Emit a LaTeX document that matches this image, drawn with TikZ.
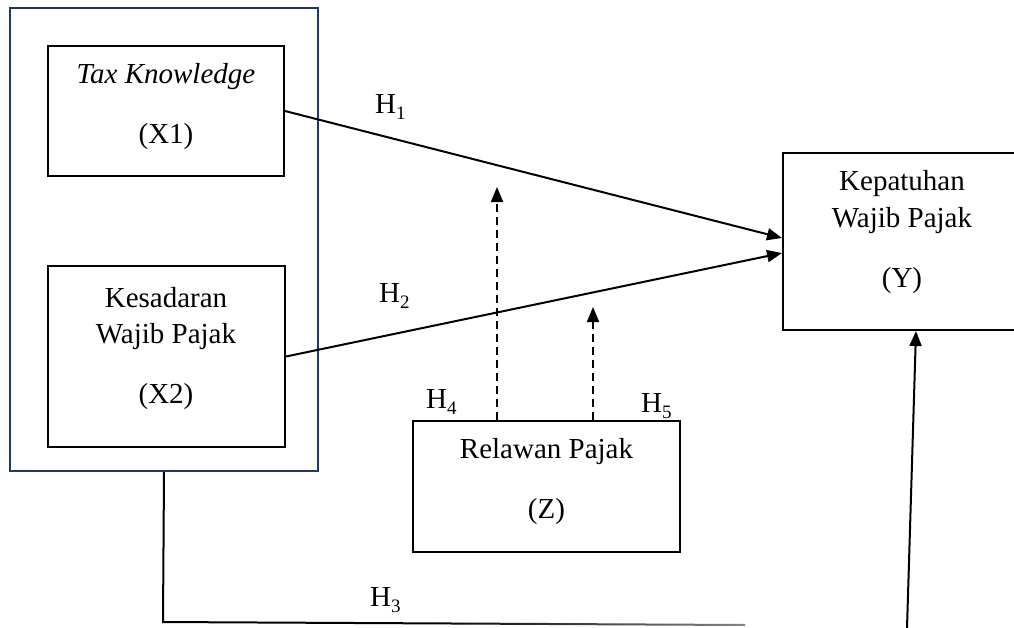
\documentclass[tikz,border=0pt]{standalone}
\usepackage{fontspec}
\setmainfont{Liberation Serif}
\usetikzlibrary{arrows.meta}
\definecolor{navy}{RGB}{31,56,100}
\pgfdeclarehorizontalshading{fadeline}{100bp}{color(0bp)=(black); color(48bp)=(black); color(100bp)=(white)}
\newcommand\Hsub[1]{H\raisebox{-6pt}{\fontsize{19}{19}\selectfont #1}}
\begin{document}
\begin{tikzpicture}[x=1pt,y=-1pt,
  every node/.style={font=\fontsize{29}{35}\selectfont},
  boxnode/.style={draw=black, line width=2pt, inner sep=0pt, fill=none},
  txt/.style={anchor=base, inner sep=0pt},
  hlab/.style={anchor=base west, inner sep=0pt},
  conn/.style={line width=2pt, -{Triangle[length=15pt,width=12pt]}},
  dconn/.style={line width=2pt, dash pattern=on 8pt off 5pt, -{Triangle[length=15pt,width=12pt]}},
  plain/.style={line width=2pt}]
\useasboundingbox (0,0) rectangle (1014,627);
\clip (0,0) rectangle (1014,627);
\fill[white] (0,0) rectangle (1014,627);

% boxes
\node[draw=navy, line width=2.4pt, inner sep=0pt, minimum width=308pt, minimum height=463pt] (outer) at (164,239.5) {};
\node[boxnode, minimum width=236pt, minimum height=130pt] (X1) at (166,111) {};
\node[boxnode, minimum width=237pt, minimum height=181pt] (X2) at (166.5,356.5) {};
\node[boxnode, minimum width=238pt, minimum height=177pt] (Y) at (902,241.5) {};
\node[boxnode, minimum width=267pt, minimum height=131pt] (Z) at (546.5,486.5) {};

% texts
\node[txt] (x1a) at (166,83) {\textit{Tax Knowledge}};
\node[txt] (x1b) at (166,143) {(X1)};
\node[txt] (x2a) at (166,307) {Kesadaran};
\node[txt] (x2b) at (166,343) {Wajib Pajak};
\node[txt] (x2c) at (166,403) {(X2)};
\node[txt] (ya) at (902,190) {Kepatuhan};
\node[txt] (yb) at (902,227) {Wajib Pajak};
\node[txt] (yc) at (902,287) {(Y)};
\node[txt] (za) at (546.5,458) {Relawan Pajak};
\node[txt] (zb) at (546.5,518) {(Z)};

% hypothesis labels
\node[hlab] (h1) at (375,113) {\Hsub{1}};
\node[hlab] (h2) at (379,302) {\Hsub{2}};
\node[hlab] (h3) at (370,606) {\Hsub{3}};
\node[hlab] (h4) at (426,408) {\Hsub{4}};
\node[hlab] (h5) at (641,412) {\Hsub{5}};

% connectors
\draw[conn] (X1.east) -- ([yshift=3.5pt]Y.west);
\draw[conn] (X2.east) -- ([yshift=-11.5pt]Y.west);

\coordinate (d1) at (497,187);
\coordinate (d2) at (593,307);
\draw[dconn] (Z.north -| d1) -- (d1);
\draw[dconn] (Z.north -| d2) -- (d2);

\coordinate (b1) at (163,622);
\coordinate (b2) at (907,628);
\draw[plain] (outer.south) -- (b1);
\shade[shading=fadeline] (162,621) -- (745,624) -- (745,626) -- (162,623) -- cycle;
\draw[conn] (b2) -- ([xshift=14pt]Y.south);
\end{tikzpicture}
\end{document}
